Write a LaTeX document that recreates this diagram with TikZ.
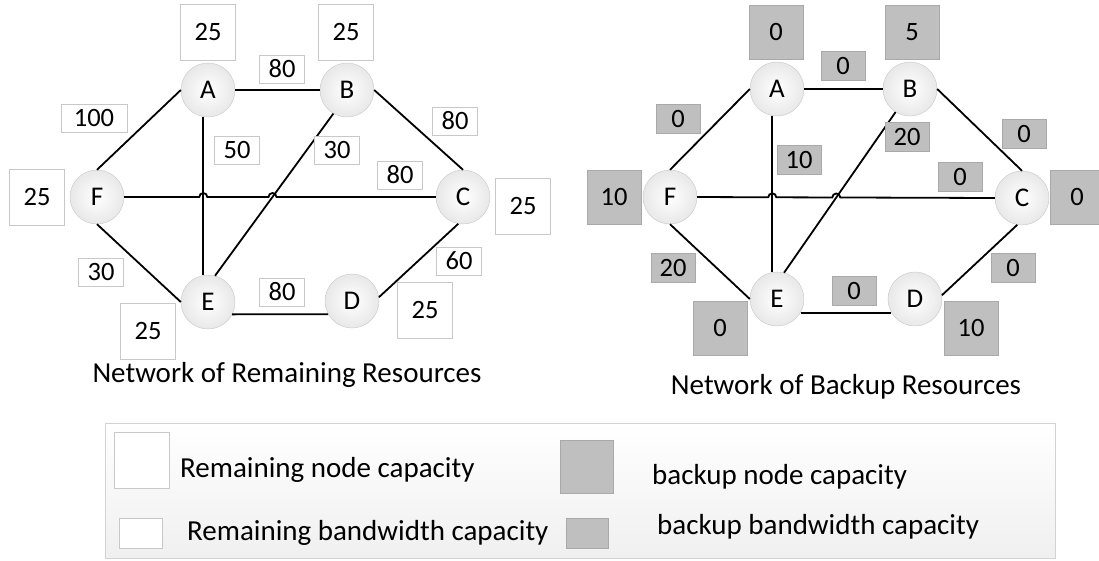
\documentclass[tikz,border=0pt]{standalone}
\usepackage{fontspec}
\setmainfont{Carlito}
\usetikzlibrary{intersections,calc}
\definecolor{bkgray}{HTML}{BFBFBF}
\definecolor{boxline}{HTML}{C8C8C8}
\definecolor{bkline}{HTML}{A9A9A9}
\tikzset{
  vtx/.style={circle, minimum size=54pt, inner sep=0pt, draw=gray!45, inner color=white, outer color=gray!18, font=\fontsize{27}{27}\selectfont},
  link/.style={line width=1.8pt, black},
  rnode/.style={draw=boxline, fill=white, minimum width=55pt, minimum height=56pt, inner sep=0pt, font=\fontsize{26.5}{26.5}\selectfont},
  rbw/.style={draw=boxline, fill=white, minimum width=45pt, minimum height=28pt, inner sep=0pt, font=\fontsize{26.5}{26.5}\selectfont},
  bnode/.style={rnode, draw=bkline, fill=bkgray, minimum width=54pt, minimum height=54pt},
  bbw/.style={rbw, draw=bkline, fill=bkgray, minimum width=44pt, minimum height=29pt},
  ttl/.style={font=\fontsize{29}{29}\selectfont},
  lgtext/.style={font=\fontsize{29}{29}\selectfont, anchor=west, inner sep=0pt}
}
\begin{document}
\begin{tikzpicture}[x=1pt,y=-1pt]
\useasboundingbox (0,0) rectangle (1099,560);
% network of remaining resources
\foreach \n/\x/\y in {A/208/90,B/347/90,C/463/197,D/352/301,E/208/302,F/97/197}
  \node[vtx] (r\n) at (\x,\y) {\n};
\foreach \s/\t in {F.90/A.180,A.0/B.180,B.0/C.90,C.260/D.8,E.-27/D.209,F.270/E.180}
  \draw[link] (r\s) -- (r\t);
\draw[link, name path=rae] (rA.260) -- (rE.100);
\draw[link, name path=rbe] (rB.240) -- (rE.75);
\path[name path=rfc] (rF) -- (rC);
\path[name intersections={of=rfc and rae, by=rx1}];
\path[name intersections={of=rfc and rbe, by=rx2}];
\draw[link] (rF.0) -- ($(rx1)+(-4,0)$) arc[start angle=180, end angle=0, radius=4pt]
  -- ($(rx2)+(-4,0)$) arc[start angle=180, end angle=0, radius=4pt] -- (rC.180);
\foreach \n/\x/\y in {A/208/32,B/346/32,C/523/206,D/425/310,E/148/331,F/37/197}
  \node[rnode] (rn\n) at (\x,\y) {25};
\foreach \n/\x/\y/\v in {AB/282/69/80,AE/237/150/50,BE/337/150/30,BC/455/121/80,FC/400/175/80,FE/101/272/30,ED/282/292/80,CD/459/261/60}
  \node[rbw] (rb\n) at (\x,\y) {\v};
\node[rbw, minimum width=66pt] (rbFA) at (94,118) {100};
\node[ttl] (ttlR) at (287,375) {Network of Remaining Resources};
% network of backup resources
\foreach \n/\x/\y in {A/777/89,B/910/89,C/1022/198,D/915/299,E/777/299,F/670/197}
  \node[vtx] (b\n) at (\x,\y) {\n};
\foreach \s/\t in {F.90/A.180,A.0/B.180,B.0/C.90,C.260/D.8,E.-30/D.210,F.270/E.180}
  \draw[link] (b\s) -- (b\t);
\draw[link, name path=bae] (bA.260) -- (bE.100);
\draw[link, name path=bbe] (bB.238) -- (bE.75);
\path[name path=bfc] (bF) -- (bC);
\path[name intersections={of=bfc and bae, by=bx1}];
\path[name intersections={of=bfc and bbe, by=bx2}];
\draw[link] (bF.0) -- ($(bx1)+(-4,0)$) arc[start angle=180, end angle=0, radius=4pt]
  -- ($(bx2)+(-4,0)$) arc[start angle=180, end angle=0, radius=4pt] -- (bC.180);
\foreach \n/\x/\y/\v in {A/776/32/0,B/912/32/5,C/1077/197/0,D/971/328/10,E/720/328/0,F/614/197/10}
  \node[bnode] (bn\n) at (\x,\y) {\v};
\foreach \n/\x/\y/\v in {AB/843/66/0,FA/678/119/0,AE/799/160/10,BE/907/137/20,BC/1024/134/0,FC/960/177/0,FE/673/268/20,ED/854/291/0,CD/1013/268/0}
  \node[bbw] (bb\n) at (\x,\y) {\v};
\node[ttl] (ttlB) at (846,387) {Network of Backup Resources};
% legend
\node[draw=gray!35, top color=white, bottom color=gray!12, minimum width=950pt, minimum height=135pt, inner sep=0pt] (lgd) at (580,490.5) {};
\node[rnode] (lgRN) at (141.5,460.5) {};
\node[lgtext] (lgRNt) at (180,470) {Remaining node capacity};
\node[bnode, minimum width=53pt, minimum height=53pt] (lgBN) at (586.5,466.5) {};
\node[lgtext] (lgBNt) at (652,477) {backup node capacity};
\node[rbw, minimum width=43pt, minimum height=30pt] (lgRB) at (140.5,533) {};
\node[lgtext] (lgRBt) at (187,533) {Remaining bandwidth capacity};
\node[bbw, minimum width=42pt, minimum height=30pt] (lgBB) at (587,533) {};
\node[lgtext] (lgBBt) at (657,527) {backup bandwidth capacity};
\end{tikzpicture}
\end{document}
